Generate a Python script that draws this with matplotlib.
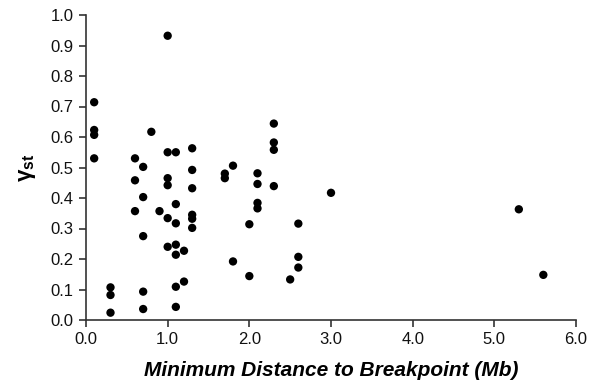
import matplotlib
matplotlib.use("Agg")
import matplotlib.pyplot as plt

plt.rcParams['font.family'] = ['Liberation Sans', 'DejaVu Sans']
plt.rcParams['mathtext.fontset'] = 'custom'
plt.rcParams['mathtext.rm'] = 'Liberation Sans'
plt.rcParams['mathtext.bf'] = 'Liberation Sans:bold'
plt.rcParams['mathtext.it'] = 'Liberation Sans:italic'

distance_mb = [
    0.1, 0.1, 0.1, 0.1,
    0.3, 0.3, 0.3,
    0.6, 0.6, 0.6,
    0.7, 0.7, 0.7, 0.7, 0.7,
    0.8,
    0.9,
    1.0, 1.0, 1.0, 1.0, 1.0, 1.0,
    1.1, 1.1, 1.1, 1.1, 1.1, 1.1, 1.1,
    1.2, 1.2,
    1.3, 1.3, 1.3, 1.3, 1.3, 1.3,
    1.7, 1.7,
    1.8, 1.8,
    2.0, 2.0,
    2.1, 2.1, 2.1, 2.1,
    2.3, 2.3, 2.3, 2.3,
    2.5,
    2.6, 2.6, 2.6,
    3.0,
    5.3,
    5.6,
]
gamma_st = [
    0.714, 0.623, 0.607, 0.530,
    0.107, 0.082, 0.024,
    0.530, 0.458, 0.357,
    0.502, 0.403, 0.275, 0.093, 0.036,
    0.617,
    0.357,
    0.932, 0.550, 0.465, 0.442, 0.334, 0.240,
    0.550, 0.380, 0.317, 0.247, 0.214, 0.109, 0.043,
    0.227, 0.126,
    0.563, 0.492, 0.432, 0.345, 0.332, 0.302,
    0.480, 0.465,
    0.506, 0.192,
    0.314, 0.144,
    0.481, 0.446, 0.384, 0.366,
    0.644, 0.582, 0.558, 0.439,
    0.133,
    0.316, 0.207, 0.172,
    0.417,
    0.363,
    0.148,
]
x_ticks = [0.0, 1.0, 2.0, 3.0, 4.0, 5.0, 6.0]
y_ticks = [0.0, 0.1, 0.2, 0.3, 0.4, 0.5, 0.6, 0.7, 0.8, 0.9, 1.0]

fig = plt.figure(figsize=(5.99, 3.88), dpi=100)
ax = fig.add_axes([86/599, 1 - 320/388, (576-86)/599, (320-15)/388])

ax.scatter(distance_mb, gamma_st, s=36, color='black', edgecolors='none', zorder=3, clip_on=False)

ax.set_xlim(0, 6)
ax.set_ylim(0, 1)
ax.set_xticks(x_ticks)
ax.set_xticklabels([f"{v:.1f}" for v in x_ticks])
ax.set_yticks(y_ticks)
ax.set_yticklabels([f"{v:.1f}" for v in y_ticks])

for side in ['top', 'right']:
    ax.spines[side].set_visible(False)
for side in ['left', 'bottom']:
    ax.spines[side].set_color('#333333')
    ax.spines[side].set_linewidth(1.2)

ax.tick_params(axis='both', direction='out', length=5, width=1.2, color='#333333',
               labelsize=12, labelcolor='#111111', pad=4)

ax.set_xlabel('Minimum Distance to Breakpoint (Mb)', fontsize=15, fontweight='bold',
              fontstyle='italic', labelpad=10)
ax.set_ylabel(r'$\mathbf{\gamma_{st}}$', fontsize=16, labelpad=9)

fig.savefig('out.png', dpi=100)
